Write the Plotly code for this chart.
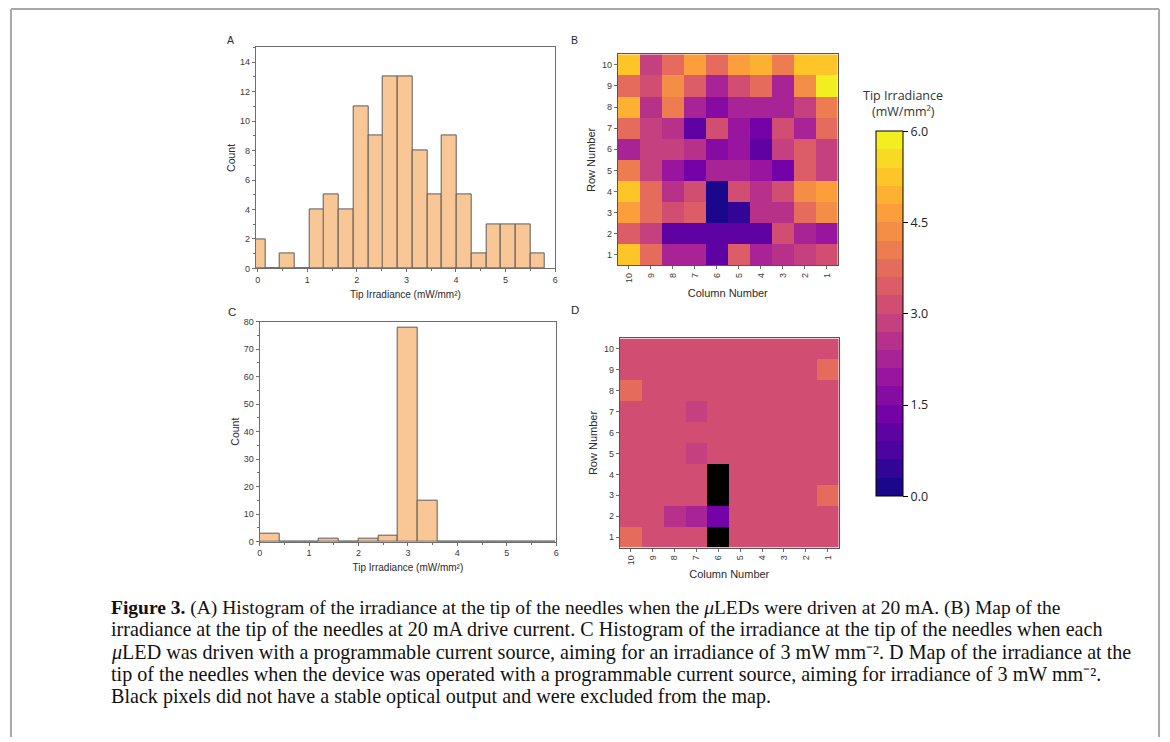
import numpy as np
import plotly.graph_objects as go
from plotly.colors import sample_colorscale, sequential

# ---------------- data ----------------
# Panel A histogram (20 mA drive)
binA_left = [-0.14, 0.16, 0.45, 0.75, 1.05, 1.34, 1.64, 1.94, 2.24, 2.53,
             2.83, 3.13, 3.42, 3.72, 4.02, 4.32, 4.61, 4.91, 5.21, 5.50]
binA_width = 0.297
countA = [2, 0, 1, 0, 4, 5, 4, 11, 9, 13, 13, 8, 5, 9, 5, 1, 3, 3, 3, 1]

# Panel C histogram (programmable current source)
binC_left = [0.0, 0.4, 0.8, 1.2, 1.6, 2.0, 2.4, 2.8, 3.2, 3.6, 4.0, 4.4, 4.8, 5.2, 5.6]
binC_width = 0.4
countC = [3, 0, 0, 1, 0, 1, 2, 78, 15, 0, 0, 0, 0, 0, 0]

# Heatmap grid labels
columns = [10, 9, 8, 7, 6, 5, 4, 3, 2, 1]   # left -> right
rows = [10, 9, 8, 7, 6, 5, 4, 3, 2, 1]      # top -> bottom

# Panel B: tip irradiance (mW/mm^2), rows 10..1, columns 10..1
irrB = [
    [5.1, 2.8, 3.9, 4.5, 3.8, 4.5, 5.0, 4.1, 5.2, 5.2],
    [3.8, 3.2, 4.2, 3.5, 2.2, 3.2, 3.9, 2.2, 4.2, 5.8],
    [5.0, 2.5, 4.0, 2.1, 1.7, 2.1, 2.1, 2.4, 2.9, 4.0],
    [3.6, 2.8, 2.5, 1.2, 3.2, 1.9, 1.4, 3.2, 2.4, 3.7],
    [2.1, 2.9, 2.9, 2.5, 1.6, 1.9, 1.2, 2.9, 3.4, 2.9],
    [4.1, 2.9, 1.8, 1.3, 2.1, 2.2, 1.9, 1.3, 3.4, 2.9],
    [5.3, 3.7, 2.6, 3.2, 0.05, 3.2, 2.6, 3.0, 4.2, 4.8],
    [4.7, 3.7, 3.0, 3.4, 0.25, 0.45, 2.6, 2.6, 3.7, 4.2],
    [3.5, 2.8, 1.2, 1.0, 1.0, 1.2, 1.2, 3.0, 2.2, 1.8],
    [5.3, 3.7, 2.1, 2.1, 1.2, 3.4, 2.2, 2.6, 2.9, 3.3],
]

# Panel D: tip irradiance with programmable current (None = excluded pixel)
irrD = [
    [3.1, 3.1, 3.1, 3.1, 3.1, 3.1, 3.1, 3.1, 3.1, 3.1],
    [3.1, 3.1, 3.1, 3.1, 3.1, 3.1, 3.1, 3.1, 3.1, 3.6],
    [3.6, 3.1, 3.1, 3.1, 3.1, 3.1, 3.1, 3.1, 3.1, 3.1],
    [3.1, 3.1, 3.1, 2.8, 3.1, 3.1, 3.1, 3.1, 3.1, 3.1],
    [3.1, 3.1, 3.1, 3.1, 3.1, 3.1, 3.1, 3.1, 3.1, 3.1],
    [3.1, 3.1, 3.1, 2.8, 3.1, 3.1, 3.1, 3.1, 3.1, 3.1],
    [3.1, 3.1, 3.1, 3.1, None, 3.1, 3.1, 3.1, 3.1, 3.1],
    [3.1, 3.1, 3.1, 3.1, None, 3.1, 3.1, 3.1, 3.1, 3.6],
    [3.1, 3.1, 2.5, 2.2, 1.3, 3.1, 3.1, 3.1, 3.1, 3.1],
    [3.6, 3.1, 3.1, 3.1, None, 3.1, 3.1, 3.1, 3.1, 3.1],
]

cbar_ticks = [0.0, 1.5, 3.0, 4.5, 6.0]

caption_lines = [
    "<b>Figure 3.</b> (A) Histogram of the irradiance at the tip of the needles when the <i>μ</i>LEDs were driven at 20 mA. (B) Map of the",
    "irradiance at the tip of the needles at 20 mA drive current. C Histogram of the irradiance at the tip of the needles when each",
    "<i>μ</i>LED was driven with a programmable current source, aiming for an irradiance of 3 mW mm⁻². D Map of the irradiance at the",
    "tip of the needles when the device was operated with a programmable current source, aiming for irradiance of 3 mW mm⁻².",
    "Black pixels did not have a stable optical output and were excluded from the map.",
]

# ---------------- helpers ----------------
W, H = 1170, 742
def px(x):
    return x / W
def py(y):
    return 1 - y / H

# stepped plasma colourscale (20 bands)
nb = 20
cs = []
for i in range(nb):
    c = sample_colorscale(sequential.Plasma, (i + 0.5) / nb)[0]
    cs.append([i / nb, c])
    cs.append([(i + 1) / nb, c])

fig = go.Figure()

bar_fill = "#f9c796"
bar_line = "#5a5a5a"

cA = np.array(binA_left) + binA_width / 2
fig.add_trace(go.Bar(x=cA, y=countA, width=binA_width, xaxis="x", yaxis="y",
                     marker=dict(color=bar_fill, line=dict(color=bar_line, width=1)),
                     showlegend=False))
cC = np.array(binC_left) + binC_width / 2
fig.add_trace(go.Bar(x=cC, y=countC, width=binC_width, xaxis="x3", yaxis="y3",
                     marker=dict(color=bar_fill, line=dict(color=bar_line, width=1)),
                     showlegend=False))

fig.add_trace(go.Heatmap(z=irrB, x=columns, y=rows, coloraxis="coloraxis",
                         xaxis="x2", yaxis="y2"))
fig.add_trace(go.Heatmap(z=irrD, x=columns, y=rows, coloraxis="coloraxis",
                         xaxis="x4", yaxis="y4"))
# excluded (black) pixels in D
maskD = [[1 if v is None else None for v in r] for r in irrD]
fig.add_trace(go.Heatmap(z=maskD, x=columns, y=rows, xaxis="x4", yaxis="y4",
                         colorscale=[[0, "black"], [1, "black"]], showscale=False,
                         hoverinfo="skip"))

tickfont = dict(family="Liberation Sans, Arial", size=9, color="#3a3a3a")
axcol = "#6e6e6e"
ttl_font = dict(family="Liberation Sans, Arial", color="#2a2a2a")

def hist_axes(xdom, ydom, yrange, ydtick, ytickvals, xrange):
    xa = dict(domain=xdom, range=xrange, tickvals=[0, 1, 2, 3, 4, 5, 6],
              ticks="outside", ticklen=3, tickcolor=axcol, showline=True,
              linecolor=axcol, linewidth=1, mirror=True, showgrid=False,
              zeroline=False, tickfont=tickfont, automargin=True,
              title=dict(text="Tip Irradiance (mW/mm²)", standoff=6,
                         font=dict(ttl_font, size=10)),
              minor=dict(dtick=0.5, tick0=0, ticks="outside", ticklen=2, tickcolor=axcol))
    ya = dict(domain=ydom, range=yrange, tickvals=ytickvals,
              ticks="outside", ticklen=3, tickcolor=axcol, showline=True,
              linecolor=axcol, linewidth=1, mirror=True, showgrid=False,
              zeroline=False, tickfont=tickfont, automargin=True,
              title=dict(text="Count", standoff=2, font=dict(ttl_font, size=10.5)),
              minor=dict(dtick=ydtick, tick0=0, ticks="outside", ticklen=2, tickcolor=axcol))
    return xa, ya

xa1, ya1 = hist_axes([px(254), px(555)], [py(267), py(43)], [0, 15], 1,
                     [0, 2, 4, 6, 8, 10, 12, 14], [-0.04, 6.0])
xa3, ya3 = hist_axes([px(258), px(556)], [py(544), py(321)], [0, 80], 5,
                     [0, 10, 20, 30, 40, 50, 60, 70, 80], [0, 6])

def map_axes(xdom, ydom, xstand, ystand):
    xa = dict(domain=xdom, range=[10.5, 0.5], tickvals=columns, ticktext=[str(c) for c in columns],
              tickangle=-90, ticks="outside", ticklen=3, tickcolor=axcol, showline=True,
              linecolor="#555555", linewidth=1, mirror=True, showgrid=False, zeroline=False,
              tickfont=tickfont, automargin=True,
              title=dict(text="Column Number", standoff=xstand, font=dict(ttl_font, size=11)))
    ya = dict(domain=ydom, range=[0.5, 10.5], tickvals=rows, ticks="outside", ticklen=3,
              tickcolor=axcol, showline=True, linecolor="#555555", linewidth=1, mirror=True,
              showgrid=False, zeroline=False, tickfont=tickfont, automargin=True,
              title=dict(text="Row Number", standoff=ystand, font=dict(ttl_font, size=11)))
    return xa, ya

xa2, ya2 = map_axes([px(618), px(839)], [py(264), py(50)], 7, 4)
xa4, ya4 = map_axes([px(620), px(840)], [py(550), py(338)], 6, 4)

xa1["anchor"] = "y"; ya1["anchor"] = "x"
xa2["anchor"] = "y2"; ya2["anchor"] = "x2"
xa3["anchor"] = "y3"; ya3["anchor"] = "x3"
xa4["anchor"] = "y4"; ya4["anchor"] = "x4"

fig.update_layout(
    width=W, height=H, margin=dict(l=0, r=0, t=0, b=0),
    paper_bgcolor="white", plot_bgcolor="white",
    xaxis=xa1, yaxis=ya1, xaxis2=xa2, yaxis2=ya2,
    xaxis3=xa3, yaxis3=ya3, xaxis4=xa4, yaxis4=ya4,
    bargap=0, showlegend=False,
    coloraxis=dict(
        cmin=0, cmax=6, colorscale=cs,
        colorbar=dict(x=px(878), xanchor="left", y=py(128), yanchor="top",
                      len=370 / H, lenmode="fraction", thickness=27, thicknessmode="pixels",
                      outlinecolor="black", outlinewidth=1, tickvals=cbar_ticks,
                      tickformat=".1f", ticks="outside", ticklen=5, tickcolor="black",
                      tickfont=dict(family="Open Sans", size=12.5, color="#222"),
                      xpad=0, ypad=0),
    ),
)

ann = []
def add_text(x, y, text, size=9, angle=0, family="Liberation Sans, Arial", color="#2a2a2a",
             xanchor="center", yanchor="middle"):
    ann.append(dict(x=px(x), y=py(y), xref="paper", yref="paper", text=text, showarrow=False,
                    textangle=angle, xanchor=xanchor, yanchor=yanchor,
                    font=dict(family=family, size=size, color=color)))

# panel letters
add_text(229, 35, "A", size=10.5)
add_text(574, 35, "B", size=10.5)
add_text(230, 311, "C", size=11.5)
add_text(575, 309, "D", size=11.5)
# colorbar title
add_text(905, 92, "Tip Irradiance", size=12.5, family="Open Sans", color="#333")
add_text(905, 108, "(mW/mm²)", size=12.5, family="Open Sans", color="#333")
# caption
cap_y = [611, 633.5, 656, 678.5, 701]
cap_size = [19.5, 20.1, 20.1, 20.1, 20.1]
for yy, t, s in zip(cap_y, caption_lines, cap_size):
    add_text(107, yy, t, size=s, family="Liberation Serif, Times New Roman", color="#111",
             xanchor="left")

fig.update_layout(annotations=ann)

# outer frame (open at the bottom)
frame = dict(type="line", xref="paper", yref="paper", line=dict(color="#a8a8a8", width=2))
fig.update_layout(shapes=[
    dict(frame, x0=px(8), x1=px(8), y0=0, y1=py(4)),
    dict(frame, x0=px(8), x1=px(1162), y0=py(4), y1=py(4)),
    dict(frame, x0=px(1162), x1=px(1162), y0=0, y1=py(4)),
])

fig.write_html("out.html")
